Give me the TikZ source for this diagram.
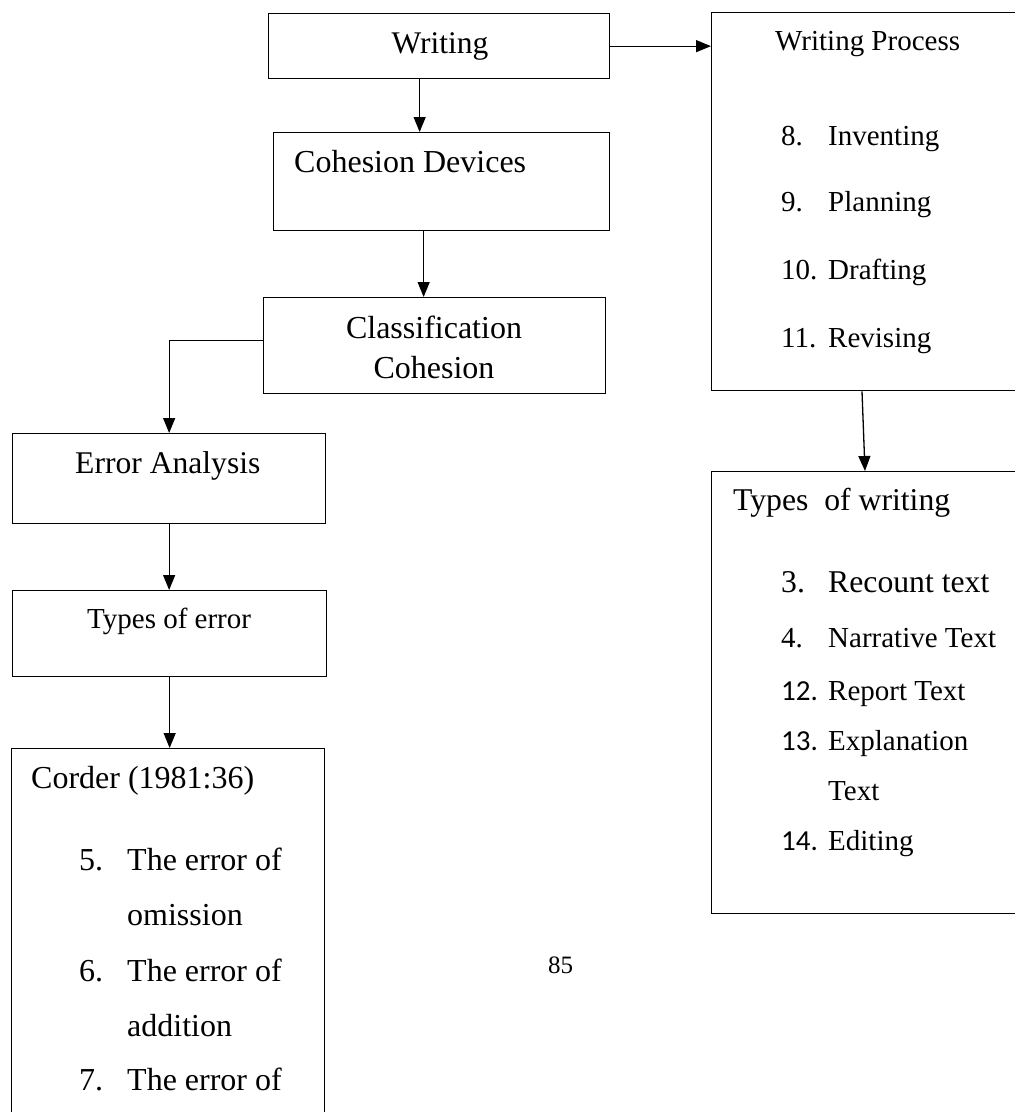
\documentclass[tikz,border=0pt]{standalone}
\usepackage{fontspec}
\setmainfont{Liberation Serif}
\newfontfamily\calib{Carlito}
\usetikzlibrary{arrows.meta}
\tikzset{
  box/.style={draw, line width=1.3pt, inner sep=0pt, anchor=north west},
  arr/.style={line width=1.3pt, -{Triangle[length=15pt,width=12pt]}},
  txt/.style={anchor=base west, inner sep=0pt},
  fs/.style={font=\fontsize{#1}{#1}\selectfont}
}
\begin{document}
\begin{tikzpicture}[x=1pt,y=-1pt]
\useasboundingbox (0,0) rectangle (1015,1112);
\clip (0,0) rectangle (1015,1112);
% boxes
\node[box, minimum width=341pt, minimum height=65pt] (W) at (268,13) {};
\node[box, minimum width=336pt, minimum height=98pt] (CD) at (273,132) {};
\node[box, minimum width=342pt, minimum height=96pt] (CC) at (263,297) {};
\node[box, minimum width=313pt, minimum height=90pt] (EA) at (12,433) {};
\node[box, minimum width=314pt, minimum height=86pt] (TE) at (12,590) {};
\node[box, minimum width=313pt, minimum height=380pt] (CO) at (11,748) {};
\node[box, minimum width=320pt, minimum height=378pt] (WP) at (711,12) {};
\node[box, minimum width=320pt, minimum height=442pt] (TW) at (711,471) {};
% texts
\node[txt, fs=31.5, anchor=base] (tW) at (440,53) {Writing};
\node[txt, fs=29] (tWP) at (775,50) {Writing Process};
\node[txt, fs=29] (n8) at (781,145) {8.};
\node[txt, fs=29] (i8) at (828,145) {Inventing};
\node[txt, fs=29] (n9) at (781,211) {9.};
\node[txt, fs=29] (i9) at (828,211) {Planning};
\node[txt, fs=29] (n10) at (781,279) {10.};
\node[txt, fs=29] (i10) at (828,279) {Drafting};
\node[txt, fs=29] (n11) at (781,347) {11.};
\node[txt, fs=29] (i11) at (828,347) {Revising};
\node[txt, fs=32] (tCD) at (294,172) {Cohesion Devices};
\node[txt, fs=32, anchor=base] (tCC1) at (434,338) {Classification};
\node[txt, fs=32, anchor=base] (tCC2) at (434,378) {Cohesion};
\node[txt, fs=31.6] (tEA) at (75,473) {Error Analysis};
\node[txt, fs=29] (tTE) at (87,628) {Types of error};
\node[txt, fs=32] (tCO) at (31,788) {Corder (1981:36)};
\node[txt, fs=32] (n5) at (79,870) {5.};
\node[txt, fs=32] (i5) at (127,870) {The error of};
\node[txt, fs=32] (i5b) at (127,925) {omission};
\node[txt, fs=32] (n6) at (79,981) {6.};
\node[txt, fs=32] (i6) at (127,981) {The error of};
\node[txt, fs=32] (i6b) at (127,1036) {addition};
\node[txt, fs=32] (n7) at (79,1090) {7.};
\node[txt, fs=32] (i7) at (127,1090) {The error of};
\node[txt, fs=31.7] (tTW) at (733,510) {Types\ \ of writing};
\node[txt, fs=31.7] (n3) at (781,592) {3.};
\node[txt, fs=31.7] (i3) at (828,592) {Recount text};
\node[txt, fs=29] (n4) at (781,647) {4.};
\node[txt, fs=29] (i4) at (828,647) {Narrative Text};
\node[txt, fs=29] (n12) at (781,700) {\calib 12.};
\node[txt, fs=29] (i12) at (828,700) {Report Text};
\node[txt, fs=29] (n13) at (781,750) {\calib 13.};
\node[txt, fs=29] (i13) at (828,750) {Explanation};
\node[txt, fs=29] (i13b) at (828,800) {Text};
\node[txt, fs=29] (n14) at (781,850) {\calib 14.};
\node[txt, fs=29] (i14) at (828,850) {Editing};
\node[txt, fs=25] (pg) at (548,973) {85};
% connectors
\draw[arr] (W.east) -- (W.east -| WP.west);
\coordinate (c1) at ([xshift=-19.5pt]W.south);
\draw[arr] (c1) -- (c1 |- CD.north);
\coordinate (c2) at ([xshift=-18pt]CD.south);
\draw[arr] (c2) -- (c2 |- CC.north);
\draw[arr] ([yshift=5pt]CC.west) -| (EA.north);
\draw[arr] (EA.south) -- (EA.south |- TE.north);
\draw[arr] (TE.south) -- (TE.south |- CO.north);
\coordinate (c3) at ([xshift=151pt]WP.south west);
\coordinate (c4) at ([xshift=154pt]TW.north west);
\draw[arr] (c3) -- (c4);
\end{tikzpicture}
\end{document}
